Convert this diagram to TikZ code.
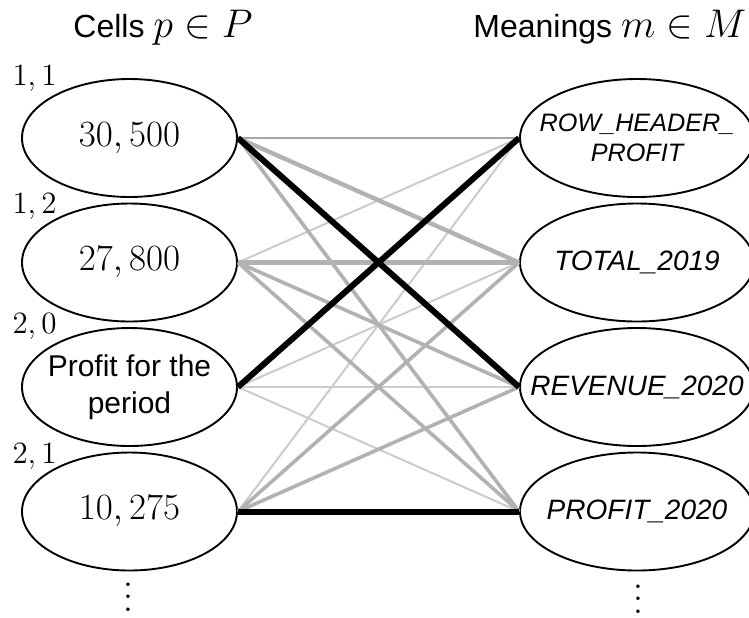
\RequirePackage{fix-cm}
\documentclass[tikz,border=0pt]{standalone}
\usepackage{fontspec}
\setsansfont{Liberation Sans}
\usepackage{graphicx}
\usetikzlibrary{shapes.geometric}

% larger math inside the column titles
\newcommand{\titlemath}[1]{{\fontsize{20}{24}\selectfont$#1$}}

\begin{document}
\begin{tikzpicture}[x=0.5pt,y=-0.5pt,
  cell/.style={ellipse, draw, line width=0.95pt, minimum width=107.5pt,
    minimum height=59pt, inner sep=0pt},
  meaning/.style={ellipse, draw, line width=0.95pt, minimum width=117pt,
    minimum height=59pt, inner sep=0pt},
  numtext/.style={font=\fontsize{18.5}{22}\selectfont},
  celltext/.style={font=\sffamily\fontsize{15}{18.5}\selectfont, align=center},
  meantext/.style={font=\sffamily\itshape\fontsize{14}{17}\selectfont, align=center},
  headtext/.style={font=\sffamily\itshape\fontsize{12.6}{15}\selectfont, align=center},
  idx/.style={font=\fontsize{15.5}{18}\selectfont, anchor=base, inner sep=0pt},
  title/.style={font=\sffamily\fontsize{16}{19}\selectfont, anchor=base west, inner sep=0pt},
  dotsnode/.style={font=\fontsize{11.6}{14}\selectfont, anchor=base, inner sep=0pt},
  faint/.style={draw=black!20, line width=1pt},
  mid/.style={draw=black!35, line width=1.4pt},
  medium/.style={draw=black!30, line width=1.8pt},
  heavy/.style={draw=black!30, line width=2.2pt},
  match/.style={draw=black, line width=3pt},
]
\fill[white] (0,0) rectangle (749,617);
\useasboundingbox (0,0) rectangle (749,617);

% column titles
\node[title] (tcells) at (73,37) {Cells \titlemath{p \in P}};
\node[title] (tmeans) at (473,37) {Meanings \titlemath{m \in M}};

% cells
\node[cell, label={[numtext]center:{$30,500$}}] (L1) at (129.5,138) {};
\node[cell, label={[numtext]center:{$27,800$}}] (L2) at (129.5,262.5) {};
\node[cell, label={[celltext]center:{Profit for the\\period}}] (L3) at (129.5,387) {};
\node[cell, label={[numtext]center:{$10,275$}}] (L4) at (129.5,511.5) {};

% cell coordinates
\node[idx] (i1) at (34.5,85) {$1,1$};
\node[idx] (i2) at (34.5,213) {$1,2$};
\node[idx] (i3) at (34.5,333) {$2,0$};
\node[idx] (i4) at (34.5,463) {$2,1$};

% meanings
\node[meaning, label={[headtext]center:{ROW\_HEADER\_\\PROFIT}}] (R1) at (637,138) {};
\node[meaning, label={[meantext]center:{TOTAL\_2019}}] (R2) at (637,262.5) {};
\node[meaning, label={[meantext]center:{REVENUE\_2020}}] (R3) at (637,387) {};
\node[meaning, label={[meantext]center:{PROFIT\_2020}}] (R4) at (637,511.5) {};

% continuation dots
\node[dotsnode] (Ldots) at (128,611) {\scalebox{1.56}{$\vdots$}};
\node[dotsnode] (Rdots) at (638,613) {\scalebox{1.56}{$\vdots$}};

% candidate links, weakest first
\draw[faint] (L2.east) -- (R1.west);
\draw[faint] (L3.east) -- (R2.west);
\draw[faint] (L3.east) -- (R3.west);
\draw[faint] (L3.east) -- (R4.west);
\draw[faint] (L4.east) -- (R1.west);
\draw[mid] (L1.east) -- (R1.west);
\draw[medium] (L1.east) -- (R4.west);
\draw[medium] (L2.east) -- (R3.west);
\draw[medium] (L2.east) -- (R4.west);
\draw[medium] (L4.east) -- (R2.west);
\draw[medium] (L4.east) -- (R3.west);
\draw[heavy] (L1.east) -- (R2.west);
\draw[heavy] (L2.east) -- (R2.west);

% chosen matches
\draw[match] (L1.east) -- (R3.west);
\draw[match] (L3.east) -- (R1.west);
\draw[match] (L4.east) -- (R4.west);
\end{tikzpicture}
\end{document}
